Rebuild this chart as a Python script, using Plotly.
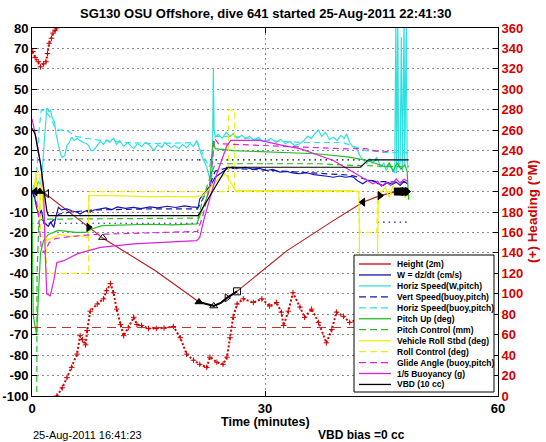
import plotly.graph_objects as go

# ---------------- text ----------------
TITLE = "SG130 OSU Offshore, dive 641 started 25-Aug-2011 22:41:30"
X_LABEL = "Time (minutes)"
Y2_LABEL = "(+) Heading (°M)"
DATE_NOTE = "25-Aug-2011 16:41:23"
VBD_NOTE = "VBD bias =0 cc"
X_TICKS = [0, 30, 60]
Y_TICKS = list(range(-100, 81, 10))
Y_TICK_TEXT = [str(v) for v in Y_TICKS]
Y2_TICKS = list(range(0, 361, 20))

LEGEND_LABELS = ["Height (2m)", "W = dz/dt (cm/s)", "Horiz Speed(W,pitch)",
                 "Vert Speed(buoy,pitch)", "Horiz Speed(buoy,pitch)", "Pitch Up (deg)",
                 "Pitch Control (mm)", "Vehicle Roll Stbd (deg)", "Roll Control (deg)",
                 "Glide Angle (buoy,pitch)", "1/5 Buoyancy (g)", "VBD (10 cc)"]

# ---------------- data: (time [min], value) ----------------
HEIGHT = [(0.3, 0), (1.7, -1), (5.8, -13), (9.2, -23), (15.9, -38.7), (21.5, -54),
          (22.5, -55), (23.4, -56), (24.3, -54.5), (25.1, -52), (26.4, -48.8),
          (32.8, -29), (38.8, -14.2), (42.6, -5.2), (44.8, -2), (47.0, 0)]
APOGEE = [(21.5, -54), (22.5, -55), (23.4, -56), (24.3, -54.5), (25.1, -52), (26.4, -48.8)]
HEIGHT_MARKS = [(0.4, 0), (1.0, 0), (1.9, -1), (7.3, -17.5), (9.1, -22.5), (21.5, -54),
                (23.4, -56), (25.1, -52), (26.4, -48.8), (42.6, -5.2), (44.8, -2),
                (47.1, 0), (47.5, 0), (47.9, 0), (48.3, 0)]

W_DZDT = [(0.0, 0), (0.3, -2), (0.6, -8), (0.9, -12), (1.2, -9), (1.5, -15), (1.8, -16),
          (2.1, -17), (2.4, -15), (2.8, -17.5), (3.1, -12), (3.4, -7.7), (3.8, -9),
          (4.5, -8.5), (5.2, -9.5), (5.8, -10.1), (6.2, -11), (6.6, -10), (7.0, -9.5),
          (7.5, -10), (8.0, -9), (8.8, -8.5), (9.5, -8), (10.3, -8.8), (11.0, -7.5),
          (12.0, -8.2), (13.1, -7.7), (14.0, -8.3), (15.2, -7.5), (16.2, -8), (17.4, -7.2),
          (18.5, -7.8), (19.6, -7), (20.5, -7.5), (21.4, -7.7), (21.6, -3.6), (22.3, 0),
          (23.0, 3), (23.6, 7), (24.3, 9), (25.1, 11.1), (25.8, 12), (26.6, 11.5),
          (27.5, 11.8), (28.4, 11), (29.3, 11.3), (30.2, 10.3), (31.0, 10.8), (31.9, 9.5),
          (32.8, 9.8), (33.7, 9), (34.5, 8.7), (35.4, 9.2), (36.3, 8.3), (37.2, 8),
          (38.0, 7.5), (38.8, 7), (39.6, 7.6), (40.4, 7), (41.0, 7.4), (41.4, 7),
          (42.0, 5), (42.6, 3.8), (43.2, 5.5), (43.9, 5.4), (44.5, 4), (45.2, 2.9),
          (45.8, 4.5), (46.4, 3.5), (46.9, 4.6), (47.4, 3), (47.9, 5), (48.4, 3.5)]

HSPD_W = [(0.0, 0), (0.2, 3), (0.5, 1), (0.8, 5), (1.1, 3), (1.3, 8.7), (1.5, 20), (1.7, 30),
          (1.9, 41), (2.2, 39), (2.4, 40), (2.6, 36), (2.9, 34), (3.1, 28), (3.4, 23),
          (3.7, 18), (3.9, 16.8), (4.2, 17.5), (4.5, 22.5), (4.8, 24), (5.1, 26.6),
          (5.4, 25), (5.8, 26), (6.2, 25), (6.6, 24), (7.0, 23.5), (7.3, 22.5), (7.6, 20),
          (7.9, 20), (8.3, 22), (8.8, 24.5), (9.2, 23), (9.6, 25.3), (10.0, 24),
          (10.5, 26), (10.9, 23), (11.3, 25), (11.8, 22), (12.3, 24), (12.7, 22.5),
          (13.1, 21), (13.6, 23.5), (14.1, 22), (14.6, 24), (15.2, 22.5), (15.7, 20),
          (16.2, 23), (16.7, 21.5), (17.1, 24), (17.4, 23), (17.9, 21.5), (18.4, 22.5),
          (18.9, 21), (19.4, 23), (19.9, 21.5), (20.4, 23.5), (20.8, 22), (21.2, 25),
          (21.6, 20), (22.0, 16), (22.5, 12), (22.9, 5.4), (23.1, 3), (23.25, 20),
          (23.35, 60), (23.45, 30), (23.6, 26.6), (24.0, 28), (24.5, 26), (25.0, 29),
          (25.5, 27), (25.9, 28.3), (26.4, 26), (27.0, 27.5), (27.5, 25.8), (28.0, 27),
          (28.6, 25), (29.2, 26.5), (29.7, 24.5), (30.2, 25), (30.8, 26), (31.4, 24),
          (32.0, 25.5), (32.6, 23.5), (33.2, 24.5), (33.8, 22.5), (34.5, 23.4), (35.0, 25),
          (35.5, 27), (36.0, 26), (36.4, 28.3), (36.9, 30), (37.3, 27), (37.8, 29),
          (38.3, 25.5), (38.8, 26.6), (39.3, 25), (39.8, 27.5), (40.2, 26), (40.5, 28.3),
          (40.9, 24), (41.3, 22), (41.8, 21), (42.3, 17), (42.7, 15), (43.1, 13.6),
          (43.5, 16), (43.9, 14), (44.4, 16.8), (44.9, 12), (45.3, 14), (45.6, 10.3),
          (46.0, 13), (46.4, 11), (46.7, 9), (46.85, 85), (46.95, 9), (47.1, 85),
          (47.2, 12), (47.4, 14), (47.55, 75.6), (47.7, 10), (47.9, 85), (48.0, 13),
          (48.2, 85), (48.3, 15), (48.45, 12)]

VSPD_BUOY = [(0.0, 0), (0.6, -6), (1.2, -13), (1.8, -16), (2.5, -15), (3.5, -11), (5.0, -10),
             (8.0, -9), (15.0, -8.5), (21.3, -8.5), (22.5, 0), (23.6, 10), (25.0, 11.5),
             (30.0, 10.5), (36.0, 9), (41.0, 8), (44.0, 5), (48.5, 4.5)]

HSPD_BUOY = [(0.0, 0), (0.5, 2), (0.9, 30), (1.2, 40), (1.8, 39), (2.4, 36), (3.0, 31),
             (3.6, 30), (4.5, 30), (5.6, 27), (7.0, 26), (9.0, 25), (12.0, 24), (16.0, 23.5),
             (21.3, 24), (22.0, 18), (22.8, 12), (23.3, 18), (23.6, 27), (26.0, 27),
             (30.0, 25), (35.0, 24), (40.0, 24), (43.0, 20), (46.0, 19), (48.5, 19)]

PITCH_UP = [(0.0, -2), (0.15, -60), (0.35, -65), (0.6, -70), (0.9, -45), (1.1, -30),
            (1.5, -24), (2.1, -21), (3.4, -19), (4.5, -19.5), (5.6, -20), (6.9, -20),
            (7.7, -18.3), (9.0, -16.7), (12.0, -16.2), (15.0, -16), (18.0, -16.3),
            (21.2, -15.8), (22.0, -8), (22.8, 0), (23.3, 25), (23.6, 21), (25.9, 20),
            (31.9, 19.3), (36.6, 18.5), (40.9, 16.8), (43.1, 15.2), (45.6, 12),
            (46.0, 14), (46.5, 10), (47.0, 14), (47.5, 11), (48.0, 13), (48.3, 10),
            (48.5, -4)]

PITCH_CTRL = [(0.0, -130), (0.6, -130), (0.65, -40), (0.9, -14), (1.5, -13.5), (21.4, -13),
              (21.9, -5), (23.0, 8), (23.6, 13.6), (36.9, 13.6), (40.0, 13), (44.0, 12.5),
              (48.5, 12)]

ROLL = [(0.0, 0), (0.3, 2), (0.5, 9), (0.7, -5), (0.9, -12), (1.2, 5), (1.5, -10),
        (1.8, -24), (2.5, -23), (3.5, -21), (5.0, -22), (6.0, -21.5), (7.2, -22.5),
        (7.35, -2), (10.0, -2), (15.0, -2.5), (21.0, -2.5), (22.0, -2), (23.0, 2),
        (24.0, 6), (24.9, 8.7), (25.5, 5), (26.2, 0.5), (30.0, 0.5), (35.0, 0.5),
        (41.0, 0.5), (42.1, 0), (42.2, -50), (44.4, -50), (44.6, -2), (45.5, 2),
        (46.0, -3), (46.5, 3), (47.0, -1), (47.5, 2), (48.0, -3), (48.5, 0)]

ROLL_CTRL = [(0.0, 0), (0.5, 0), (0.6, 10), (1.0, 10), (1.1, -22), (1.9, -22), (1.9, -40),
             (7.3, -40), (7.3, 0), (25.3, 0), (25.3, 40), (26.1, 40), (26.1, 0),
             (42.1, 0), (42.2, -20), (44.4, -20), (44.5, 0), (48.5, 0)]

GLIDE = [(0.3, 0), (0.8, -10), (1.2, -28), (1.6, -30), (2.2, -25), (3.0, -23), (5.0, -22),
         (8.0, -21), (21.3, -19.5), (22.0, -12), (23.0, 5), (23.5, 26), (24.0, 23.4),
         (30.0, 22.5), (36.6, 21.7), (40.5, 20.9), (43.0, 21), (45.0, 19.3), (46.5, 20)]

BUOYANCY = [(0.0, 35.6), (0.6, 25), (1.1, 13.6), (1.5, 0.5), (1.7, -30), (1.9, -50),
            (2.35, -51), (2.8, -43.6), (3.2, -34.7), (4.1, -33.8), (5.8, -30.5),
            (8.8, -27.3), (13.1, -25.6), (17.4, -24.8), (21.2, -24), (21.6, -22.4),
            (22.1, -14.2), (23.8, 8.7), (25.1, 22.5), (25.6, 25), (29.4, 25), (32.4, 22.5),
            (34.5, 21), (38.8, 15.2), (41.8, 8.7), (43.9, 3.8), (44.5, 5), (45.0, 2.5),
            (45.6, 4.6), (46.2, 3), (46.9, 6.2), (47.4, 4), (47.9, 6), (48.4, 5)]

VBD = [(0.0, 31), (0.4, 28), (0.85, 18.5), (1.1, 13.6), (1.5, 2), (1.9, -9.3), (2.1, -11.8),
       (21.4, -11.8), (25.1, 11.9), (42.3, 11.9), (43.3, 15.5), (48.5, 15.5)]

# reference (dotted) lines: (t_start, t_end, value)
REF_BLUE = [(0.0, 21.5, 15.5), (0.0, 21.5, -15.5), (44.5, 48.5, -15)]
REF_BLACK = [(21.5, 44.5, 15.5)]

# heading (deg magnetic, right axis); None marks the 360->0 wrap
HEADING = [(0.1, 337), (0.4, 331), (0.8, 327), (1.1, 322), (1.5, 325), (1.8, 327),
           (2.0, 335), (2.2, 345), (2.5, 350), (2.7, 355), (3.0, 358), (3.15, 360),
           (3.16, None), (3.2, 0), (3.9, 8), (4.5, 18), (5.1, 28), (5.8, 41), (6.2, 59),
           (6.5, 55), (6.9, 50), (7.1, 64), (7.5, 83), (8.4, 90), (9.2, 95), (9.6, 103),
           (10.1, 110), (10.5, 101), (10.9, 85), (11.4, 70), (11.8, 59), (12.4, 67),
           (13.1, 77), (13.5, 70), (14.1, 69), (15.0, 66), (16.0, 66), (17.0, 66.5),
           (18.2, 68), (19.1, 57), (19.9, 41), (20.8, 35), (21.6, 31), (22.5, 28),
           (22.9, 38), (23.8, 33), (24.6, 31), (25.1, 38), (25.5, 57), (25.9, 77),
           (26.4, 90), (27.2, 95), (28.5, 91.5), (29.6, 95), (30.6, 88), (31.5, 91.5),
           (32.1, 82), (32.4, 69), (33.0, 83), (33.6, 101), (34.5, 87), (35.1, 77),
           (36.0, 85), (36.9, 72), (37.9, 52), (38.6, 65), (39.2, 82), (40.1, 78),
           (40.9, 72), (42.0, 75), (43.5, 80), (45.0, 85), (46.5, 90)]
HEADING_REF = 67

# ---------------- colours ----------------
RED = "#d40000"
DKRED = "#b81818"
REFRED = "#c83030"
BLUE = "#1414b4"
CYAN = "#30e0e0"
GREEN = "#20c020"
YELLOW = "#eeee10"
MAGENTA = "#dd22dd"
BLACK = "#000000"
DASH = "6px,4px"

fig = go.Figure()


def add_line(pts, color, dash="solid", width=1.2, yaxis="y"):
    fig.add_trace(go.Scatter(x=[p[0] for p in pts], y=[p[1] for p in pts], mode="lines",
                             line=dict(color=color, width=width, dash=dash),
                             showlegend=False, yaxis=yaxis, hoverinfo="skip",
                             connectgaps=False))


# heading (right axis)
fig.add_trace(go.Scatter(x=[p[0] for p in HEADING], y=[p[1] for p in HEADING],
                         mode="lines+markers", yaxis="y2", showlegend=False,
                         line=dict(color=RED, width=2, dash="2px,2px"),
                         marker=dict(symbol="cross-thin", size=4, color=RED,
                                     line=dict(color=RED, width=1)),
                         connectgaps=False, hoverinfo="skip"))
add_line([(0, HEADING_REF), (48.5, HEADING_REF)], REFRED, dash="9px,6px", width=1.2, yaxis="y2")

# reference lines
for t0, t1, v in REF_BLUE:
    add_line([(t0, v), (t1, v)], BLUE, dash="1.5px,4px", width=1.2)
for t0, t1, v in REF_BLACK:
    add_line([(t0, v), (t1, v)], BLACK, dash="1.5px,4px", width=1.2)

add_line(HEIGHT, DKRED, width=1.1)
add_line(APOGEE, BLACK, width=2)
add_line(W_DZDT, BLUE)
add_line(HSPD_W, CYAN)
add_line(VSPD_BUOY, BLUE, dash=DASH)
add_line(HSPD_BUOY, CYAN, dash=DASH)
add_line(PITCH_UP, GREEN)
add_line(PITCH_CTRL, GREEN, dash=DASH)
add_line(ROLL, YELLOW)
add_line(ROLL_CTRL, YELLOW, dash=DASH)
add_line(GLIDE, MAGENTA, dash=DASH)
add_line(BUOYANCY, MAGENTA)
add_line(VBD, BLACK)

fig.add_trace(go.Scatter(x=[p[0] for p in HEIGHT_MARKS], y=[p[1] for p in HEIGHT_MARKS],
                         mode="markers", showlegend=False, hoverinfo="skip",
                         marker=dict(symbol=["triangle-left", "triangle-up", "triangle-left-open",
                                             "triangle-right", "triangle-up-open", "triangle-up",
                                             "triangle-up-open", "triangle-right-open",
                                             "square-open", "triangle-left", "triangle-right",
                                             "square", "triangle-left", "square", "triangle-right"],
                                     size=7, color=BLACK, line=dict(color=BLACK, width=1))))

# ---------------- geometry (reference pixels; page margin removed by post_script) ----------------
W_FIG, H_FIG = 546, 442
PLOT_X0, PLOT_X1, PLOT_Y0, PLOT_Y1 = 32, 498, 28, 396
L, R = PLOT_X0, W_FIG - PLOT_X1
T, B = PLOT_Y0, H_FIG - PLOT_Y1
PW, PH = W_FIG - L - R, H_FIG - T - B


def px(x):
    return (x - L) / PW


def py(y):
    return (H_FIG - B - y) / PH


FONT = "Liberation Sans, Arial, Helvetica, sans-serif"
annotations = [
    dict(text=TITLE, x=px(265), y=py(14), font=dict(size=13, weight="bold")),
    dict(text=X_LABEL, x=px(265), y=py(422), font=dict(size=12.5, weight="bold")),
    dict(text=DATE_NOTE, x=px(31), y=py(435), xanchor="left", font=dict(size=11)),
    dict(text=VBD_NOTE, x=px(316), y=py(435), xanchor="left", font=dict(size=12, weight="bold")),
    dict(text=Y2_LABEL, x=px(532), y=py(212), textangle=-90,
         font=dict(size=13.5, weight="bold", color=RED)),
]
for a in annotations:
    a.setdefault("xanchor", "center")
    a.update(xref="paper", yref="paper", yanchor="middle", showarrow=False)
    a["font"].setdefault("color", BLACK)
    a["font"]["family"] = FONT

# manual legend
LEG_STYLES = [(RED, "solid"), (BLUE, "solid"), (CYAN, "solid"), (BLUE, "dash"), (CYAN, "dash"),
              (GREEN, "solid"), (GREEN, "dash"), (YELLOW, "solid"), (YELLOW, "dash"),
              (MAGENTA, "dash"), (MAGENTA, "solid"), (BLACK, "solid")]
shapes = [dict(type="rect", xref="paper", yref="paper", x0=px(354), x1=px(494),
               y0=py(392), y1=py(255), fillcolor="white", line=dict(color=BLACK, width=1),
               layer="above")]
for i, (label, (col, ds)) in enumerate(zip(LEGEND_LABELS, LEG_STYLES)):
    yc = 264 + i * 10.95
    shapes.append(dict(type="line", xref="paper", yref="paper", x0=px(359), x1=px(391),
                       y0=py(yc), y1=py(yc), layer="above",
                       line=dict(color=col, width=1.3, dash=("7px,4px" if ds == "dash" else "solid"))))
    annotations.append(dict(text=label, x=px(395), y=py(yc), xref="paper", yref="paper",
                            xanchor="left", yanchor="middle", showarrow=False,
                            font=dict(size=8.5, weight="bold", color=BLACK, family=FONT)))

GRID = dict(showgrid=True, gridcolor="#8a8a8a", griddash="1.5px,3.5px", gridwidth=1)
AX = dict(ticks="inside", ticklen=5, tickcolor=BLACK, tickwidth=1, showline=True,
          linecolor=BLACK, linewidth=1, zeroline=False, automargin=False)

fig.update_layout(
    template="none",
    width=W_FIG, height=H_FIG, margin=dict(l=L, r=R, t=T, b=B, pad=0, autoexpand=False),
    paper_bgcolor="white", plot_bgcolor="white", showlegend=False,
    font=dict(family=FONT, color=BLACK),
    hovermode=False,
    xaxis=dict(range=[0, 60], tickvals=X_TICKS, mirror="ticks",
               tickfont=dict(size=13, weight="bold", color=BLACK), **GRID, **AX),
    yaxis=dict(range=[-100, 80], tickvals=Y_TICKS, ticktext=Y_TICK_TEXT,
               tickfont=dict(size=13, weight="bold", color=BLACK), **GRID, **AX),
    yaxis2=dict(range=[0, 360], tickvals=Y2_TICKS, overlaying="y", side="right",
                showgrid=False, tickfont=dict(size=13, weight="bold", color=RED), **AX),
    annotations=annotations, shapes=shapes,
)

fig.write_html("out.html", config={"displayModeBar": False, "staticPlot": True},
               post_script="document.body.style.margin='0';document.body.style.padding='0';")
